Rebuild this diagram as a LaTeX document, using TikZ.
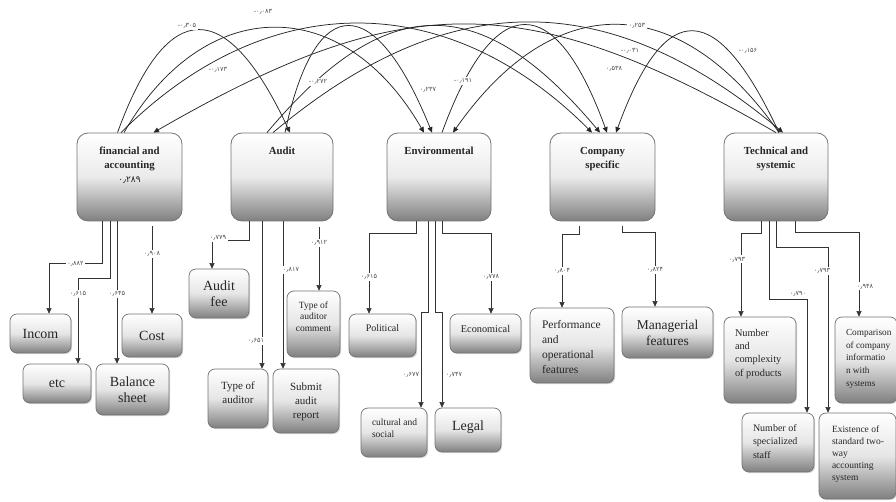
\documentclass[tikz,border=0pt]{standalone}
\usepackage{fontspec}
\setmainfont{Liberation Serif}
\newfontfamily\numfont{DejaVu Sans}
\usetikzlibrary{arrows.meta,shadows}
\newcommand{\fs}[2]{\fontsize{#1}{#2}\selectfont}
\newcommand{\cell}[4]{\parbox[c][#1][#3]{#2}{#4}}
\begin{document}
\begin{tikzpicture}[%
            x=1pt, y=1pt,
            >={Triangle[length=5.5pt,width=5pt]},
            factor/.style={draw=black!55, line width=0.8pt, rounded corners=11pt,
                top color=white, bottom color=black!50, middle color=black!8,
                inner sep=3pt, text=black!85, font=\bfseries\fs{10.8}{14}},
            item/.style={draw=black!55, line width=0.7pt, rounded corners=7pt,
                top color=white, bottom color=black!50, middle color=black!10,
                inner sep=3pt, text=black!85,
                drop shadow={shadow xshift=1.2pt, shadow yshift=-1.2pt, opacity=0.3}},
            lab/.style={fill=white, inner sep=1.5pt, text=black!70,
                font=\numfont\fs{6.5}{7}},
            link/.style={draw=black!80, line width=0.6pt, ->},
            corr/.style={draw=black!85, line width=0.75pt, ->}
            ]
            \useasboundingbox (0,0) rectangle (896,502);

            % factors
            \node[factor] (F) at (129.5,325) {\cell{82pt}{99pt}{t}{\centering\vspace*{11pt}financial and\\accounting\\{\numfont\mdseries\fs{9}{12}۰٫۲۸۹}}};
            \node[factor] (A) at (282,325) {\cell{82pt}{96pt}{t}{\centering\vspace*{11pt}Audit}};
            \node[factor] (E) at (439,325) {\cell{82pt}{98pt}{t}{\centering\vspace*{11pt}Environmental}};
            \node[factor] (C) at (602.5,325) {\cell{82pt}{99pt}{t}{\centering\vspace*{11pt}Company\\specific}};
            \node[factor] (T) at (776,325) {\cell{82pt}{98pt}{t}{\centering\vspace*{11pt}Technical and\\systemic}};

            % items
            \node[item] (Incom) at (40.5,168.5) {\cell{33pt}{55pt}{c}{\centering\fs{14}{16}Incom}};
            \node[item] (etc) at (57,118.5) {\cell{33pt}{62pt}{c}{\centering\fs{14}{16}etc}};
            \node[item] (Bal) at (132.5,112.5) {\cell{45pt}{67pt}{c}{\centering\fs{14}{16}Balance\\sheet}};
            \node[item] (Cost) at (152,166.5) {\cell{37pt}{54pt}{c}{\centering\fs{14}{16}Cost}};
            \node[item] (Fee) at (219,208.5) {\cell{43pt}{54pt}{c}{\centering\fs{14}{16}Audit\\fee}};
            \node[item] (Com) at (313.5,178) {\cell{60pt}{47pt}{t}{\centering\fs{9.5}{11.5}\vspace*{7.5pt}Type of\\auditor\\comment}};
            \node[item] (TypeA) at (238,103.5) {\cell{53pt}{54pt}{t}{\centering\fs{11}{14}\vspace*{10pt}Type of\\auditor}};
            \node[item] (Sub) at (306,101) {\cell{58pt}{60pt}{t}{\centering\fs{11}{14}\vspace*{10.5pt}Submit\\audit\\report}};
            \node[item] (Pol) at (382.5,166.5) {\cell{37pt}{61pt}{t}{\centering\fs{10}{12}\vspace*{7.5pt}Political}};
            \node[item] (Eco) at (485.5,168.5) {\cell{33pt}{65pt}{t}{\centering\fs{10.3}{12}\vspace*{8.5pt}Economical}};
            \node[item] (Cul) at (394,69.5) {\cell{43pt}{60pt}{t}{\raggedright\leftskip=8pt\fs{9.5}{12}\vspace*{7.5pt}cultural and\\social}};
            \node[item] (Leg) at (468,72) {\cell{38pt}{60pt}{t}{\centering\fs{14}{16}\vspace*{9.5pt}Legal}};
            \node[item] (Perf) at (572,156.5) {\cell{69pt}{78pt}{t}{\raggedright\leftskip=9pt\fs{11.5}{15}\vspace*{9pt}Performance\\and\\operational\\features}};
            \node[item] (Man) at (667.5,169.5) {\cell{45pt}{85pt}{c}{\centering\fs{13.5}{16}Managerial\\features}};
            \node[item] (NC) at (760,142) {\cell{80pt}{66pt}{t}{\raggedright\leftskip=8pt\fs{10.3}{13.3}\vspace*{9pt}Number\\and\\complexity\\of products}};
            \node[item] (Cmp) at (866,142) {\cell{80pt}{56pt}{t}{\raggedright\leftskip=8pt\fs{9.3}{12.6}\vspace*{9.5pt}Comparison\\of company\\informatio\\n with\\systems}};
            \node[item] (Sta) at (778,59.5) {\cell{53pt}{66pt}{t}{\raggedright\leftskip=8pt\fs{10}{13.5}\vspace*{8pt}Number of\\specialized\\staff}};
            \node[item] (Ex) at (857.5,46) {\cell{80pt}{71pt}{t}{\raggedright\leftskip=10pt\fs{9.5}{12}\vspace*{9.5pt}Existence of\\standard two-\\way\\accounting\\system}};

            % financial and accounting
            \draw[link] ([xshift=-27.5]F.south) |- node[lab,pos=0.75]{۰٫۸۸۲} ([xshift=8.5,yshift=50]Incom.north) -- ([xshift=8.5]Incom.north);
            \draw[link] ([xshift=-19.5]F.south) |- ([xshift=21,yshift=85]etc.north) -- node[lab,pos=0.18]{۰٫۶۱۵} ([xshift=21]etc.north);
            \draw[link] ([xshift=-12.5]F.south) -- node[lab,pos=0.51]{۰٫۶۴۵} ([xshift=-15.5]Bal.north);
            \draw[link,shorten <=5pt] ([xshift=22.5]F.south) -- node[lab,pos=0.35]{۰٫۹۰۸} (Cost.north);

            % audit
            \draw[link] ([xshift=-33]A.south) |- ([xshift=-7,yshift=28]Fee.north) node[lab,xshift=6,yshift=3]{۰٫۷۷۹} -- ([xshift=-7]Fee.north);
            \draw[link] ([xshift=-20]A.south) -- node[lab,pos=0.81,xshift=-6]{۰٫۶۵۱} ([xshift=24]TypeA.north);
            \draw[link] ([xshift=1]A.south) -- node[lab,pos=0.33,xshift=8]{۰٫۸۱۷} ([xshift=-23]Sub.north);
            \draw[link,shorten <=6pt] ([xshift=37]A.south) -- node[lab,pos=0.31]{۰٫۹۱۲} ([xshift=5.5]Com.north);

            % environmental
            \draw[link] ([xshift=-23]E.south) |- ([xshift=-13.5,yshift=80]Pol.north) -- node[lab,pos=0.54]{۰٫۶۱۵} ([xshift=-13.5]Pol.north);
            \draw[link] ([xshift=3]E.south) |- ([xshift=5.5,yshift=80]Eco.north) -- node[lab,pos=0.54]{۰٫۷۷۸} ([xshift=5.5]Eco.north);
            \draw[link] ([xshift=-11]E.south) |- ([xshift=27,yshift=95]Cul.north) -- node[lab,pos=0.65,xshift=-10]{۰٫۶۷۷} ([xshift=27]Cul.north);
            \draw[link] ([xshift=-4]E.south) |- ([xshift=-26,yshift=95]Leg.north) -- node[lab,pos=0.65,xshift=12]{۰٫۷۴۷} ([xshift=-26]Leg.north);

            % company specific
            \draw[link,shorten <=5pt] ([xshift=-23.5]C.south) |- ([xshift=-10,yshift=73]Perf.north) -- node[lab,pos=0.5]{۰٫۸۰۴} ([xshift=-10]Perf.north);
            \draw[link,shorten <=5pt] ([xshift=19.5]C.south) |- ([xshift=-12.5,yshift=74]Man.north) -- node[lab,pos=0.5]{۰٫۸۲۴} ([xshift=-12.5]Man.north);

            % technical and systemic
            \draw[link] ([xshift=-15]T.south) |- ([xshift=-19,yshift=83]NC.north) -- node[lab,pos=0.31,xshift=-4]{۰٫۷۹۳} ([xshift=-19]NC.north);
            \draw[link] ([xshift=-7]T.south) |- ([xshift=29,yshift=113]Sta.north) node[lab,xshift=-9,yshift=6]{۰٫۷۹۰} -- ([xshift=29]Sta.north);
            \draw[link] (T.south) |- ([xshift=-29.5,yshift=165]Ex.north) -- node[lab,pos=0.14,xshift=-6]{۰٫۷۹۳} ([xshift=-29.5]Ex.north);
            \draw[link] ([xshift=19]T.south) |- ([xshift=-7,yshift=84]Cmp.north) -- node[lab,pos=0.64,xshift=6]{۰٫۹۴۸} ([xshift=-7]Cmp.north);

            % correlations
            \draw[corr] ([xshift=-12]F.north) to[out=70,in=115,looseness=2.2] ([xshift=8]A.north);
            \draw[corr] ([xshift=-5.5]F.north) to[out=60,in=120,looseness=1.38] ([xshift=-15]E.north);
            \draw[corr] ([xshift=-8.5]F.north) to[out=45,in=135,looseness=1.12] ([xshift=-10.5]C.north);
            \draw[corr] (T.north) to[out=150,in=30,looseness=1.19] ([xshift=24]F.north);
            \draw[corr] ([xshift=3]A.north) to[out=78,in=112,looseness=2.6] ([xshift=-7]E.north);
            \draw[corr] ([xshift=-15]A.north) to[out=50,in=130,looseness=1.43] ([xshift=-2.5]C.north);
            \draw[corr] ([xshift=-9]A.north) to[out=40,in=140,looseness=1.15] ([xshift=7]T.north);
            \draw[corr] ([xshift=3]E.north) to[out=70,in=110,looseness=2.37] ([xshift=4.5]C.north);
            \draw[corr] ([xshift=3]T.north) to[out=125,in=55,looseness=1.38] ([xshift=14]E.north);
            \draw[corr] ([xshift=3]T.north) to[out=115,in=70,looseness=2.3] ([xshift=13.5]C.north);

            \node[lab] (l305) at (187,476) {-۰٫۳۰۵};
            \node[lab] (l083) at (263,490) {-۰٫۰۸۳};
            \node[lab] (l173) at (218,432) {-۰٫۱۷۳};
            \node[lab] (l272) at (318,420) {-۰٫۲۷۲};
            \node[lab] (l237) at (428,412) {۰٫۲۳۷};
            \node[lab] (l191) at (463,421) {-۰٫۱۹۱};
            \node[lab] (l253) at (637,476) {۰٫۲۵۳};
            \node[lab] (l031) at (630,451) {-۰٫۰۳۱};
            \node[lab] (l538) at (614,433) {۰٫۵۳۸};
            \node[lab] (l156) at (748,451) {-۰٫۱۵۶};
\end{tikzpicture}
\end{document}
